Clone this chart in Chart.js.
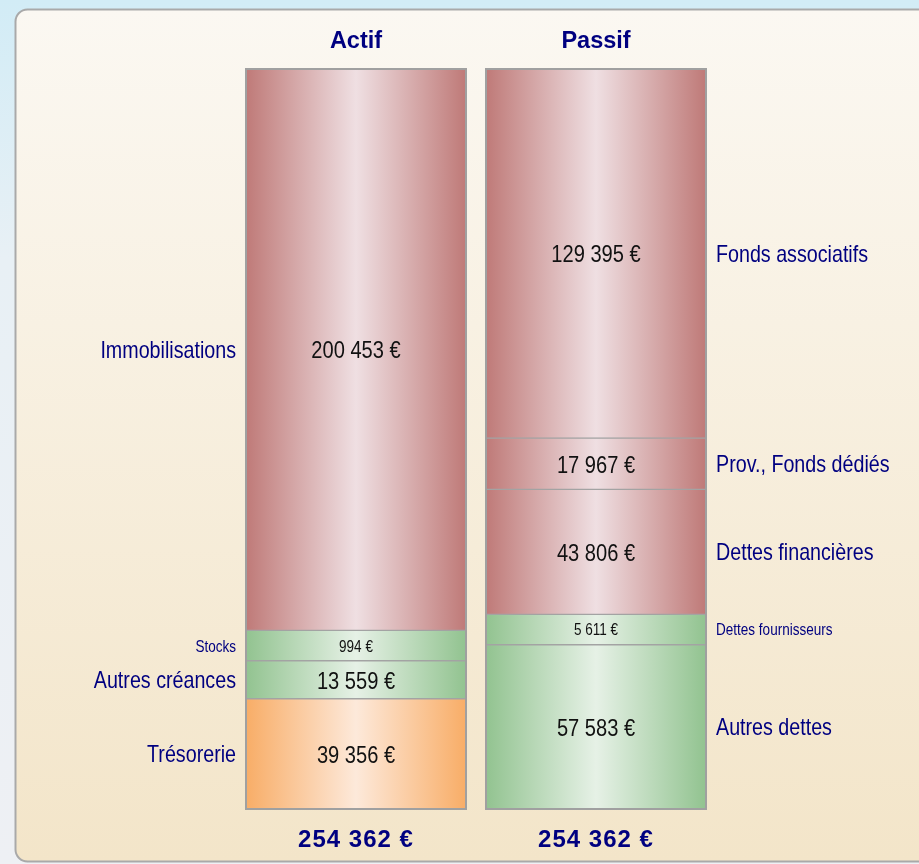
<!DOCTYPE html>
<html>
<head>
<meta charset="utf-8">
<script src="https://cdn.jsdelivr.net/npm/chart.js@4"></script>
<style>
  html, body { margin: 0; padding: 0; background: #eef0f4; }
  canvas { display: block; }
</style>
</head>
<body>
<canvas id="bilan" width="919" height="864"></canvas>
<script>
/*==================== Bilan : Actif / Passif ====================*/
const columns = ["Actif", "Passif"];

// bottom -> top
const actifLabels = ["Trésorerie", "Autres créances", "Stocks", "Immobilisations"];
const actifValues = [39356, 13559, 994, 200453];

const passifLabels = ["Autres dettes", "Dettes fournisseurs", "Dettes financières", "Prov., Fonds dédiés", "Fonds associatifs"];
const passifValues = [57583, 5611, 43806, 17967, 129395];

// colour family of each block (same order as above)
const actifKinds = ["orange", "green", "green", "red"];
const passifKinds = ["green", "green", "red", "red", "red"];

const palette = {
    red:    ["#bf7a78", "#efdfe2"],
    green:  ["#92c390", "#e6f1e6"],
    orange: ["#f8ad67", "#fde9da"]
};
const NAVY = "#000080";
const BAR_W = 220;
const MIN_SHARE = 0.041;   // very small blocks keep a readable height

const sum = a => a.reduce((s, v) => s + v, 0);
const euro = v => String(v).replace(/\B(?=(\d{3})+(?!\d))/g, " ") + " €";

const total = Math.max(sum(actifValues), sum(passifValues));

// every column fills the full height; tiny blocks get a minimum share
function shown(values) {
    const t = sum(values);
    const small = values.map(v => v / t < MIN_SHARE);
    const nSmall = small.filter(Boolean).length;
    const rest = sum(values.filter((v, i) => !small[i]));
    return values.map((v, i) => small[i] ? MIN_SHARE * total : v / rest * (1 - nSmall * MIN_SHARE) * total);
}

function gradientFor(ctx) {
    const ds = ctx.dataset;
    const chart = ctx.chart;
    const cols = palette[ds.kind];
    if (!chart.chartArea || !chart.scales.x) return cols[0];
    const x = chart.scales.x.getPixelForValue(ds.column);
    const g = chart.ctx.createLinearGradient(x - BAR_W / 2, 0, x + BAR_W / 2, 0);
    g.addColorStop(0, cols[0]);
    g.addColorStop(0.5, cols[1]);
    g.addColorStop(1, cols[0]);
    return g;
}

const datasets = [];
[[actifLabels, actifValues, actifKinds], [passifLabels, passifValues, passifKinds]].forEach(([names, values, kinds], col) => {
    const heights = shown(values);
    const t = sum(values);
    names.forEach((name, i) => {
        const data = [null, null];
        data[col] = heights[i];
        datasets.push({
            label: name,
            data: data,
            column: col,
            value: values[i],
            kind: kinds[i],
            small: values[i] / t < MIN_SHARE,
            backgroundColor: gradientFor,
            borderColor: "#a3a3a3",
            borderWidth: 1,
            borderSkipped: false,
            barThickness: BAR_W
        });
    });
});

function txt(c, s, x, y, size, align, color, bold, sx, spacing) {
    c.save();
    c.translate(x, y + size * 0.716 / 2);
    c.scale(sx, 1);
    c.font = (bold ? "bold " : "") + size + 'px "Liberation Sans", Arial, sans-serif';
    if (spacing) c.letterSpacing = spacing;
    c.textAlign = align;
    c.textBaseline = "alphabetic";
    c.fillStyle = color;
    c.fillText(s, 0, 0);
    c.restore();
}

const decor = {
    id: "decor",
    beforeDraw(chart) {
        const c = chart.ctx;
        const W = chart.width, H = chart.height;
        c.save();
        const bg = c.createLinearGradient(0, 0, 0, H);
        bg.addColorStop(0, "#d2ecf6");
        bg.addColorStop(0.3, "#e8f0f5");
        bg.addColorStop(1, "#eef0f4");
        c.fillStyle = bg;
        c.fillRect(0, 0, W, H);
        const x0 = 15.5, y0 = 9.5, x1 = W + 20, y1 = 861.5, r = 12;
        c.beginPath();
        c.moveTo(x0 + r, y0);
        c.lineTo(x1, y0);
        c.lineTo(x1, y1);
        c.lineTo(x0 + r, y1);
        c.arcTo(x0, y1, x0, y1 - r, r);
        c.lineTo(x0, y0 + r);
        c.arcTo(x0, y0, x0 + r, y0, r);
        c.closePath();
        const pg = c.createLinearGradient(0, y0, 0, y1);
        pg.addColorStop(0, "#fbf8f2");
        pg.addColorStop(1, "#f3e5c9");
        c.fillStyle = pg;
        c.fill();
        c.lineWidth = 2;
        c.strokeStyle = "#a9a9a9";
        c.stroke();
        c.restore();
    },
    afterDatasetsDraw(chart) {
        const c = chart.ctx;
        const area = chart.chartArea;
        const xs = chart.scales.x;
        // frame round each column
        columns.forEach((name, col) => {
            const x = xs.getPixelForValue(col);
            c.save();
            c.lineWidth = 2;
            c.strokeStyle = "#a0a0a0";
            c.strokeRect(x - BAR_W / 2, area.top, BAR_W, area.bottom - area.top);
            c.restore();
            txt(c, name, x, 40, 23.5, "center", NAVY, true, 1);
        });
        // values and names of each block
        chart.data.datasets.forEach((ds, i) => {
            const bar = chart.getDatasetMeta(i).data[ds.column];
            const p = bar.getProps(["x", "y", "base"], true);
            const cy = (p.y + p.base) / 2;
            const size = ds.small ? 16.5 : 24.5;
            txt(c, euro(ds.value), p.x, cy, size, "center", "#111", false, 0.82);
            if (ds.column === 0) {
                txt(c, ds.label, p.x - BAR_W / 2 - 10, cy, ds.small ? 16.5 : 24, "right", NAVY, false, 0.82);
            } else {
                txt(c, ds.label, p.x + BAR_W / 2 + 10, cy, ds.small ? 16.5 : 24, "left", NAVY, false, 0.82);
            }
        });
        // totals
        [actifValues, passifValues].forEach((vals, col) => {
            txt(c, euro(sum(vals)), xs.getPixelForValue(col), 838, 24, "center", NAVY, true, 1, "1px");
        });
    }
};

const bilan = new Chart(document.getElementById("bilan"), {
    type: "bar",
    data: {
        labels: columns,
        datasets: datasets
    },
    options: {
        responsive: false,
        animation: false,
        layout: {
            padding: { left: 236, right: 203, top: 69, bottom: 55 }
        },
        scales: {
            x: { stacked: true, display: false },
            y: { stacked: true, display: false, min: 0, max: total }
        },
        plugins: {
            legend: { display: false },
            tooltip: { enabled: false },
            title: { display: false }
        }
    },
    plugins: [decor]
});
</script>
</body>
</html>
